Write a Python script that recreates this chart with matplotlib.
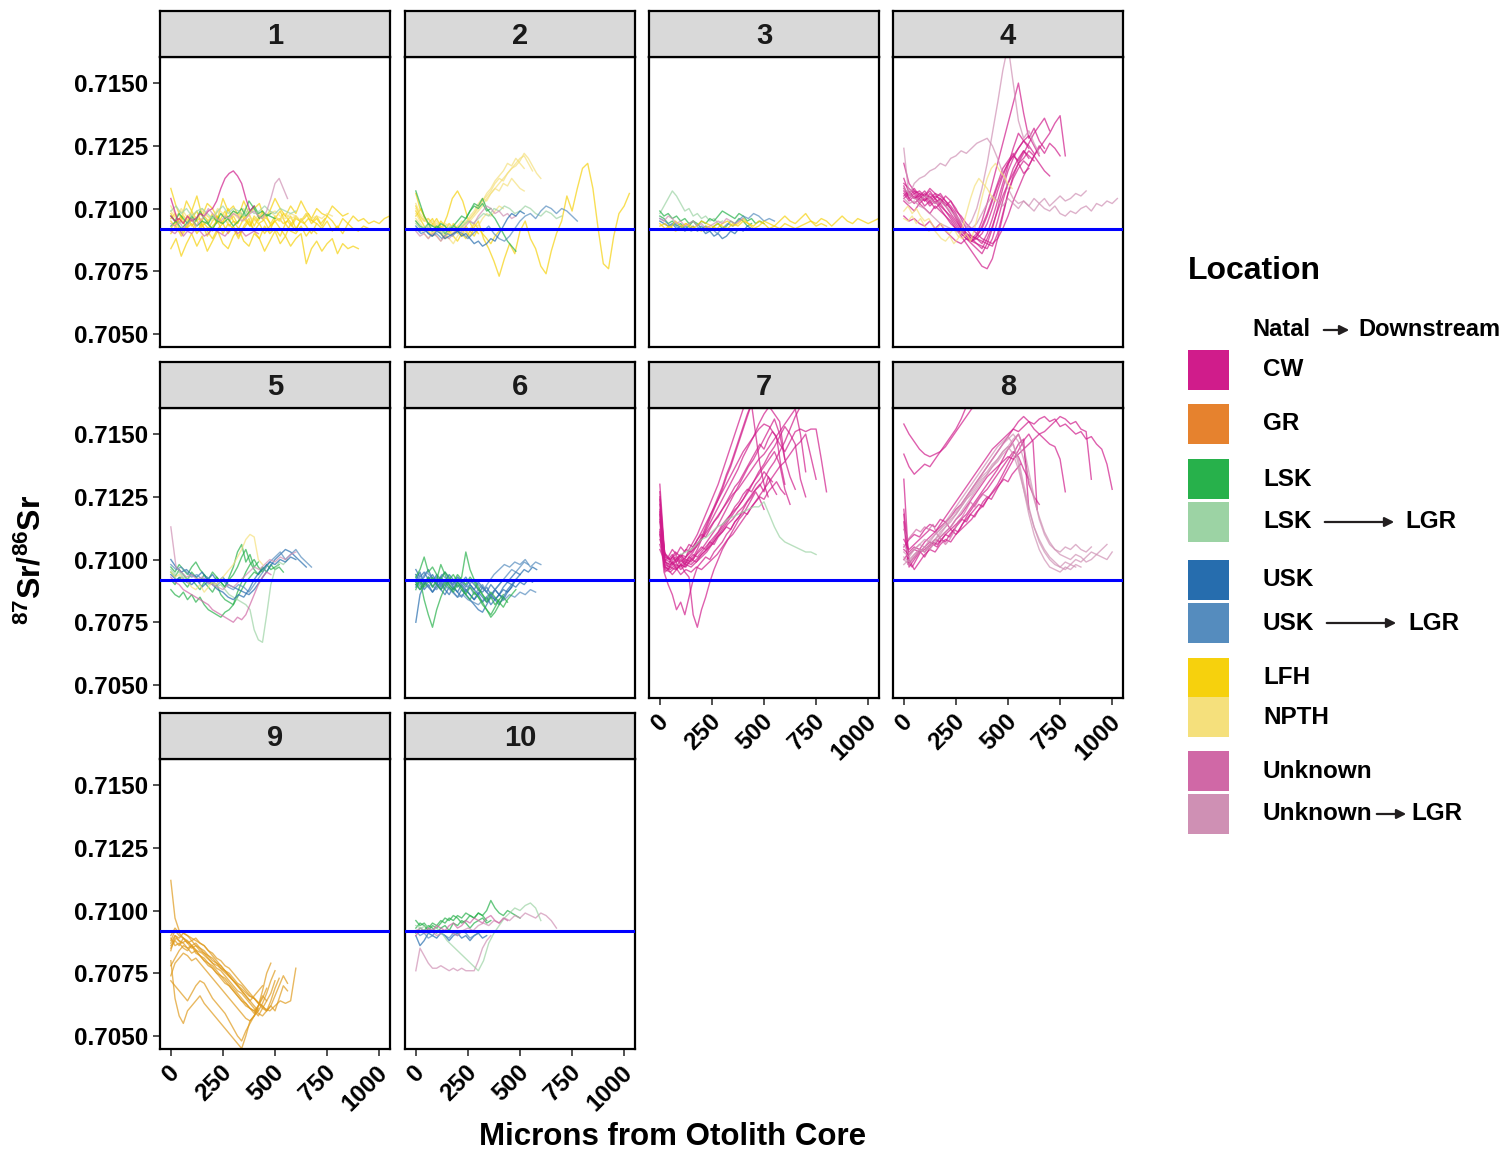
import numpy as np
import matplotlib
matplotlib.use("Agg")
import matplotlib.pyplot as plt
from matplotlib.patches import Rectangle, FancyArrowPatch
from matplotlib.transforms import ScaledTranslation

plt.rcParams["font.family"] = ["Liberation Sans", "DejaVu Sans"]
plt.rcParams["font.weight"] = "bold"
plt.rcParams["mathtext.fontset"] = "custom"
plt.rcParams["mathtext.rm"] = "Liberation Sans:bold"
plt.rcParams["mathtext.bf"] = "Liberation Sans:bold"

# ---------------- DATA ----------------
# each trace: (location, first micron, micron step, Sr ratios stored as (ratio - 0.7) * 1e4)
PANEL_1 = [
    ("LFH", 0, 25, [98, 94, 97, 92, 96, 99, 93, 95, 91, 97, 94, 100, 95, 92, 96, 98, 93, 97, 95, 91, 96, 99,
                    94, 97, 92, 95, 98, 94, 96, 93, 97, 95, 92, 96, 94, 97, 95, 96, 94, 95, 94, 96, 97]),
    ("LFH", 0, 25, [84, 88, 81, 86, 90, 85, 89, 83, 87, 91, 86, 84, 89, 92, 87, 85, 90, 88, 83, 87, 91, 86,
                    89, 85, 88, 90, 78, 84, 87, 83, 86, 88, 82, 86, 84, 85, 84]),
    ("LFH", 0, 25, [108, 101, 96, 103, 99, 105, 97, 102, 100, 96, 104, 99, 101, 97, 103, 98, 100, 102, 96, 99,
                    104, 100, 97, 101, 98, 103, 99, 96, 100, 98, 97, 101, 99, 97, 98]),
    ("LFH", 0, 20, [95, 93, 96, 94, 97, 93, 95, 96, 94, 92, 95, 97, 94, 96, 93, 95, 94, 97, 95, 93, 96, 94,
                    95, 97, 93, 95, 96, 94, 95, 93, 96, 95, 94, 96, 95, 94]),
    ("LFH", 0, 25, [92, 95, 90, 93, 96, 91, 94, 89, 93, 95, 90, 94, 92, 88, 93, 96, 91, 94, 90, 93, 95, 92,
                    89, 94, 91, 96, 93, 90, 94, 92, 95, 91, 93, 90, 94, 92, 91, 93, 92]),
    ("LFH", 0, 20, [96, 98, 94, 97, 95, 99, 96, 93, 97, 95, 98, 94, 96, 99, 95, 97, 94, 98, 96, 93, 97, 95,
                    99, 96, 94, 97, 95, 98, 96, 94, 97, 95, 96, 98, 95, 97, 94, 96]),
    ("LFH", 0, 25, [90, 93, 89, 92, 94, 90, 93, 91, 88, 92, 94, 90, 93, 89, 92, 95, 91, 88, 93, 90, 92, 89,
                    94, 91, 90, 93, 89, 92, 90]),
    ("NPTH", 0, 25, [99, 96, 100, 97, 98, 95, 99, 97, 96, 100, 98, 96, 99, 97, 95, 98, 100, 97, 96, 98, 99,
                     97, 96, 98, 97]),
    ("NPTH", 0, 25, [101, 97, 99, 95, 98, 96, 100, 97, 95, 99, 97, 94, 98, 96, 100, 97, 95, 98, 96, 99, 97,
                     95, 98, 96, 97, 95, 98, 96, 97, 96, 98, 97]),
    ("LSK", 0, 20, [97, 95, 98, 96, 94, 97, 95, 99, 96, 94, 97, 95, 98, 96, 97, 99, 98, 100, 97, 99, 101, 98,
                    99, 97, 98]),
    ("LSK", 0, 25, [93, 95, 92, 94, 96, 93, 95, 94, 92, 95, 94, 96, 93, 95, 98, 103, 100, 96, 98, 97, 96]),
    ("LSK_LGR", 0, 25, [99, 101, 98, 100, 97, 99, 100, 98, 96, 99, 101, 98, 100, 99, 97, 100, 98, 99, 101,
                        99, 98, 100, 99, 98, 99]),
    ("CW", 0, 20, [97, 95, 96, 94, 97, 95, 96, 98, 97, 99, 100, 103, 108, 112, 114, 115, 113, 110, 104, 99, 101]),
    ("Unknown_LGR", 0, 20, [94, 93, 95, 92, 94, 96, 93, 95, 97, 100, 98, 96, 95, 97, 96, 98, 97, 95, 96, 98,
                            99, 97, 96, 99, 104, 110, 112, 108, 104]),
    ("Unknown", 0, 20, [91, 90, 92, 89, 91, 90, 92, 91, 89, 90, 92, 91, 90, 89, 91, 92, 90, 91, 89, 90, 91, 90]),
    ("CW", 0, 15, [104, 100, 96]),
]

PANEL_2 = [
    ("LFH", 0, 25, [97, 100, 95, 93, 96, 92, 97, 104, 107, 103, 96, 92, 95, 88, 84, 79, 73, 80, 86, 82, 91,
                    95, 88, 84, 77, 74, 83, 90, 95, 105, 99, 108, 116, 118, 108, 92, 78, 76, 89, 98, 101, 106]),
    ("LFH", 0, 20, [106, 100, 97, 94, 96, 92, 95, 93, 90, 94, 92, 89, 93, 91, 94, 92]),
    ("LFH", 0, 20, [101, 97, 95, 96, 94, 92, 93, 91, 94, 92, 90, 93, 91, 89, 92, 90]),
    ("LFH", 0, 20, [99, 96, 93, 91, 89, 92, 90, 88, 91, 89, 87, 90, 88, 91, 89, 92, 90, 88, 86, 89, 91]),
    ("NPTH", 0, 20, [98, 95, 96, 94, 93, 95, 92, 94, 93, 91, 93, 92, 94, 95, 97, 99, 101, 104, 106, 108, 110,
                     112, 114, 116, 118, 120, 121, 118, 115]),
    ("NPTH", 0, 20, [100, 97, 95, 96, 93, 94, 92, 93, 94, 92, 91, 93, 95, 96, 98, 100, 103, 105, 107, 110, 112,
                     111, 114, 116, 117, 119, 122, 120, 117, 114, 112]),
    ("NPTH", 0, 20, [96, 94, 92, 93, 90, 92, 91, 89, 92, 90, 93, 95, 94, 97, 99, 102, 104, 103, 106, 108, 107,
                     110, 109, 112, 110, 108, 107]),
    ("NPTH", 0, 20, [95, 92, 90, 88, 91, 89, 87, 90, 88, 86, 89, 91, 90, 92, 94, 93, 96, 98, 97, 99, 101, 100]),
    ("NPTH", 0, 20, [102, 98, 96, 94, 95, 93, 91, 92, 90, 92, 91, 93, 94, 96, 98, 101, 103, 106, 108, 111, 113,
                     115, 118, 117, 120, 118, 116]),
    ("LSK", 0, 20, [107, 102, 97, 94, 93, 92, 94, 93, 91, 93, 92, 94, 96, 99, 102, 101, 104, 100, 98, 96, 93,
                    90, 87, 85, 83]),
    ("LSK", 0, 20, [95, 93, 92, 94, 91, 93, 92, 90, 92, 93, 95, 97, 96, 99, 101, 100, 102, 99, 100]),
    ("LSK_LGR", 0, 25, [94, 92, 93, 91, 92, 90, 92, 93, 91, 93, 95, 94, 96, 98, 97, 100, 99, 101, 100, 98, 99,
                        101, 100, 98, 97, 99, 98, 96, 97]),
    ("USK_LGR", 0, 25, [92, 90, 91, 89, 90, 88, 90, 89, 91, 90, 88, 90, 92, 91, 93, 90, 88, 87, 89, 92, 95,
                        97, 98, 96, 99, 101, 100, 98, 100, 99, 97, 95]),
    ("Unknown_LGR", 0, 20, [91, 89, 90, 88, 90, 89, 87, 89, 88, 90, 92, 91, 93, 95, 94, 97, 99, 101, 100, 98,
                            99, 97, 98, 96, 97]),
    ("USK", 0, 20, [93, 91, 92, 90, 89, 91, 90, 88, 89, 90, 91, 89, 90, 88, 86, 87, 85, 86, 88, 87, 90, 93,
                    96, 98, 97, 99, 98]),
]

PANEL_3 = [
    ("LSK_LGR", 0, 20, [98, 101, 104, 107, 105, 102, 99, 100, 97, 98, 96, 97, 95, 96, 94, 95]),
    ("LSK", 0, 20, [99, 97, 98, 96, 97, 95, 96, 94, 95, 93, 95, 94, 96, 95, 97, 99, 98, 97, 96, 98, 97, 95,
                    96, 94, 95, 94]),
    ("LSK", 0, 20, [97, 96, 94, 95, 93, 94, 92, 93, 95, 94, 92, 93, 91, 93, 94, 92, 93, 95, 94, 96, 95, 93, 94]),
    ("USK", 0, 20, [95, 94, 93, 94, 92, 93, 91, 92, 93, 91, 92, 90, 91, 89, 90, 88, 89, 91, 90, 92, 91, 93, 92]),
    ("USK_LGR", 0, 25, [96, 95, 93, 94, 92, 93, 91, 92, 93, 91, 92, 90, 92, 94, 93, 95, 97, 96, 98, 97, 95,
                        96, 95]),
    ("LFH", 0, 25, [93, 94, 92, 95, 93, 94, 92, 93, 95, 94, 93, 92, 94, 95, 93, 94, 96, 94, 93, 95, 94, 92,
                    93, 95, 97, 95, 94, 96, 98, 95, 94, 96, 95, 93, 95, 97, 95, 94, 96, 95, 94, 95, 96]),
    ("LFH", 0, 25, [94, 92, 93, 91, 92, 94, 93, 92, 91, 93, 92, 94, 93, 92, 94, 93, 95, 94, 92, 93, 95, 94,
                    93, 92, 94, 93, 92, 93, 94, 95, 93, 94, 93]),
    ("Unknown_LGR", 0, 20, [96, 95, 97, 96, 94, 95, 93, 94, 95, 93, 94, 92, 93, 94, 95, 94, 96, 95, 94, 95, 96]),
]

PANEL_4 = [
    ("CW", 0, 25, [118, 110, 107, 106, 105, 107, 104, 106, 103, 101, 98, 94, 90, 88, 86, 84, 88, 93, 99, 105,
                   110, 114, 118, 120, 123, 121, 125, 122, 126, 124, 121]),
    ("CW", 0, 25, [112, 106, 104, 105, 103, 106, 104, 102, 105, 103, 100, 96, 92, 89, 88, 87, 86, 85, 90, 98,
                   106, 112, 116, 119, 117, 121, 118, 115, 113]),
    ("CW", 0, 25, [109, 104, 106, 103, 105, 102, 104, 101, 99, 96, 93, 90, 88, 86, 84, 82, 86, 92, 100, 108,
                   115, 120, 124, 127, 129, 125, 121]),
    ("CW", 0, 25, [106, 103, 105, 102, 104, 101, 103, 100, 97, 94, 92, 89, 86, 83, 80, 77, 76, 80, 88, 97,
                   106, 113, 118, 122, 126, 130, 133, 136, 131]),
    ("CW", 0, 25, [105, 107, 104, 106, 103, 105, 102, 104, 101, 103, 99, 97, 94, 92, 90, 88, 87, 86, 88, 92,
                   97, 103, 108, 113, 117, 121, 124, 127, 130, 134, 137, 121]),
    ("CW", 0, 25, [103, 101, 99, 102, 100, 98, 101, 99, 97, 95, 92, 90, 88, 87, 89, 93, 98, 104, 110, 116,
                   119, 122, 118, 114, 116]),
    ("CW", 0, 25, [108, 105, 107, 104, 106, 103, 105, 104, 102, 100, 97, 93, 90, 88, 90, 95, 102, 110, 118,
                   126, 134, 142, 150, 138, 128, 132, 127, 124]),
    ("CW", 0, 25, [97, 95, 96, 94, 93, 95, 92, 94, 91, 89, 87, 86, 88, 87, 89, 92, 97, 103, 109, 114, 118,
                   121, 119, 123, 120]),
    ("CW", 0, 25, [110, 108, 106, 107, 105, 108, 106, 105, 103, 100, 96, 92, 90, 89, 88, 90, 94, 100, 107,
                   113, 118, 121, 124, 127, 125, 122]),
    ("CW", 0, 25, [104, 106, 108, 105, 107, 104, 106, 103, 101, 98, 95, 92, 89, 87, 86, 85, 84, 88, 95, 103,
                   110, 116, 120, 123, 121, 119]),
    ("CW", 0, 25, [107, 104, 102, 104, 101, 103, 100, 102, 99, 97, 94, 91, 89, 87, 88, 86, 90, 96, 103, 110,
                   117, 124, 130, 127, 124]),
    ("Unknown_LGR", 0, 25, [124, 105, 110, 112, 113, 115, 116, 118, 117, 120, 121, 123, 122, 124, 126, 127,
                            128, 125, 120, 114, 108, 104, 102, 103, 101, 104, 102, 100, 99, 101, 98, 97, 99,
                            98, 100, 101, 99, 102, 101, 103, 102, 104]),
    ("Unknown_LGR", 0, 25, [108, 106, 104, 103, 105, 104, 102, 103, 101, 99, 97, 95, 93, 92, 94, 98, 102, 105,
                            103, 101, 104, 102, 100, 103, 101, 99, 102, 104, 101, 103, 105, 103, 104, 106,
                            105, 107]),
    ("Unknown_LGR", 0, 25, [104, 102, 103, 101, 100, 98, 96, 94, 93, 92, 91, 90, 92, 95, 100, 108, 118, 130,
                            142, 155, 165, 150, 135, 128, 131, 126, 122]),
    ("NPTH", 0, 20, [99, 101, 98, 100, 97, 95, 96, 93, 92, 94, 91, 90, 92, 89, 88, 90, 87, 92, 99, 106, 112,
                     116, 118, 115, 113, 110, 108]),
    ("NPTH", 0, 20, [96, 95, 97, 94, 96, 93, 91, 92, 90, 88, 87, 89, 86, 88, 92, 98, 104, 109, 112, 110, 108,
                     105, 103]),
]

PANEL_5 = [
    ("LSK", 0, 20, [95, 93, 96, 94, 92, 95, 93, 91, 94, 92, 90, 93, 91, 89, 92, 94, 97, 101, 104, 99, 96, 94,
                    97, 95, 98, 96, 97, 95]),
    ("LSK", 0, 20, [88, 86, 85, 87, 84, 86, 83, 85, 82, 80, 79, 78, 77, 79, 80, 82, 85, 88, 91, 93, 95, 94, 96]),
    ("LSK", 0, 20, [92, 90, 93, 91, 89, 92, 90, 88, 91, 89, 87, 90, 86, 84, 83, 82, 87, 91, 95, 98, 100, 97,
                    95, 98, 96, 97, 98]),
    ("LSK", 0, 20, [97, 95, 98, 96, 94, 97, 99, 96, 94, 92, 95, 93, 91, 89, 93, 97, 103, 106, 99, 102, 97, 99]),
    ("LSK_LGR", 0, 20, [96, 94, 95, 93, 92, 94, 93, 91, 92, 90, 91, 89, 90, 88, 86, 85, 84, 83, 82, 80, 72,
                        68, 67, 78, 90, 96, 99, 98, 100]),
    ("USK", 0, 25, [100, 97, 95, 96, 94, 93, 95, 92, 94, 91, 93, 90, 89, 88, 87, 86, 88, 91, 94, 97, 100, 102,
                    104, 103, 101, 99, 97]),
    ("USK_LGR", 0, 25, [98, 96, 97, 95, 93, 94, 92, 93, 91, 90, 92, 89, 88, 90, 89, 87, 90, 93, 96, 99, 101,
                        103, 100, 102, 104, 101, 99, 97]),
    ("USK", 0, 25, [94, 92, 93, 91, 90, 92, 89, 91, 90, 88, 87, 85, 84, 86, 85, 88, 92, 95, 97, 99, 98, 100,
                    99, 101, 100]),
    ("Unknown_LGR", 0, 25, [113, 97, 95, 93, 94, 92, 93, 91, 90, 89, 88, 90, 89, 91, 93, 95, 97, 96, 98, 100,
                            99, 101, 100, 102, 103]),
    ("Unknown", 0, 20, [93, 91, 90, 88, 87, 86, 85, 84, 83, 82, 80, 79, 78, 77, 76, 75, 77, 76, 78, 82, 86,
                        90, 93, 95, 94]),
    ("NPTH", 0, 20, [95, 93, 94, 92, 91, 89, 88, 90, 87, 89, 91, 90, 92, 94, 96, 98, 101, 104, 108, 110, 109,
                     100, 98]),
]

PANEL_6 = [
    ("USK", 0, 20, [92, 95, 90, 93, 91, 94, 89, 92, 90, 88, 91, 89, 87, 90, 88, 86, 89, 87, 85, 88, 86, 84,
                    87, 89, 92, 94, 96, 95, 97, 96]),
    ("USK", 0, 20, [75, 86, 90, 92, 89, 91, 88, 90, 92, 89, 87, 90, 88, 86, 84, 86, 83, 85, 82, 84, 86, 85,
                    88, 90, 89, 91, 90, 92, 91]),
    ("USK", 0, 20, [96, 93, 95, 92, 94, 91, 93, 95, 92, 90, 93, 91, 89, 92, 90, 88, 87, 89, 86, 88, 90, 92,
                    91, 93, 95, 94]),
    ("USK", 0, 20, [90, 88, 91, 89, 87, 90, 88, 86, 89, 87, 85, 88, 86, 84, 82, 80, 79, 82, 85, 84, 86, 88,
                    87, 89]),
    ("USK", 0, 20, [94, 91, 93, 96, 92, 90, 93, 91, 94, 92, 89, 91, 93, 90, 88, 91, 89, 87, 90, 88, 86, 89,
                    91, 90, 92]),
    ("USK", 0, 20, [89, 92, 88, 90, 87, 89, 91, 88, 86, 89, 87, 85, 88, 86, 84, 87, 85, 83, 86, 84, 82, 85]),
    ("USK_LGR", 0, 25, [91, 89, 92, 90, 88, 91, 89, 87, 85, 86, 84, 83, 82, 84, 86, 85, 83, 84, 86, 85, 87,
                        86, 88, 87]),
    ("USK_LGR", 0, 25, [94, 92, 95, 93, 91, 94, 92, 90, 93, 91, 89, 92, 90, 88, 91, 94, 96, 98, 97, 99, 98,
                        100, 97, 99, 98]),
    ("USK_LGR", 0, 20, [93, 90, 92, 89, 91, 93, 90, 88, 91, 89, 92, 90, 87, 89, 86, 88, 90, 87, 85, 88, 90,
                        92, 94, 96, 95, 97, 99, 98]),
    ("LSK", 0, 20, [88, 92, 84, 78, 73, 80, 85, 89, 92, 94, 91, 93, 103, 96, 92, 89, 86, 83, 85, 82, 84]),
    ("LSK", 0, 20, [93, 96, 101, 95, 97, 94, 92, 95, 93, 91, 94, 92, 90, 93, 91, 88, 86, 84, 87, 85, 83, 81,
                    84, 86, 88]),
    ("LSK", 0, 20, [90, 92, 89, 91, 93, 90, 88, 91, 89, 87, 90, 88, 86, 89, 87, 85, 83, 80, 78, 81, 84, 86]),
    ("LSK", 0, 20, [91, 88, 90, 93, 89, 92, 98, 94, 90, 88, 91, 89, 86, 84, 87, 85, 82, 80, 77, 79, 82, 85, 83]),
]

PANEL_7 = [
    ("CW", 0, 25, [130, 100, 99, 101, 98, 100, 99, 102, 104, 107, 110, 113, 117, 121, 125, 129, 133, 137, 140,
                   144, 148, 152, 156, 150, 140]),
    ("CW", 0, 25, [127, 98, 97, 99, 96, 98, 97, 99, 101, 103, 106, 109, 112, 115, 118, 121, 124, 128, 131,
                   135, 138, 142, 145, 149, 153, 150, 146, 132, 125]),
    ("CW", 0, 25, [122, 101, 100, 102, 99, 101, 103, 105, 108, 112, 116, 120, 124, 128, 132, 136, 141, 145,
                   149, 154, 158, 161, 158, 155, 140, 133, 128]),
    ("CW", 0, 25, [118, 96, 95, 97, 94, 96, 95, 97, 96, 98, 100, 102, 105, 108, 110, 113, 116, 119, 122, 125,
                   128, 131, 134, 137, 139, 142, 145, 147, 150, 141, 132]),
    ("CW", 0, 25, [125, 99, 98, 100, 102, 101, 104, 107, 111, 115, 119, 123, 127, 131, 135, 139, 143, 146,
                   149, 152, 154, 153, 150, 146, 143, 147, 151, 152, 151, 152, 152, 140, 127]),
    ("CW", 0, 20, [112, 95, 90, 86, 80, 83, 78, 85, 92, 97, 99, 101, 100, 103, 105, 107, 110, 112, 115, 117,
                   120, 123, 125, 128, 130, 127, 133, 129, 126]),
    ("CW", 0, 20, [120, 97, 96, 94, 96, 98, 95, 93, 78, 73, 80, 85, 91, 96, 100, 104, 107, 110, 113, 116, 118,
                   121, 124, 127, 124, 120]),
    ("CW", 0, 20, [115, 99, 101, 98, 100, 102, 99, 101, 103, 106, 109, 113, 117, 121, 125, 129, 134, 138, 143,
                   148, 153, 158, 162, 150, 138, 130, 125]),
    ("CW", 0, 20, [108, 103, 100, 102, 99, 101, 98, 100, 102, 101, 103, 105, 107, 106, 109, 111, 113, 112,
                   115, 117, 119, 118, 121, 123, 125, 124, 127, 129, 131, 128, 126]),
    ("CW", 0, 20, [104, 100, 97, 99, 96, 98, 97, 99, 101, 104, 108, 112, 116, 120, 124, 128, 133, 137, 142,
                   147, 152, 157, 162]),
    ("CW", 0, 25, [116, 102, 100, 103, 101, 104, 103, 106, 108, 111, 114, 117, 120, 123, 126, 128, 131, 134,
                   137, 140, 142, 145, 148, 151, 154, 157, 160, 150, 135]),
    ("CW", 0, 25, [110, 97, 96, 98, 97, 99, 98, 100, 102, 104, 107, 110, 113, 116, 119, 121, 124, 127, 131,
                   134, 137, 140, 143, 138, 128, 122]),
    ("CW", 0, 20, [124, 103, 101, 104, 102, 105, 103, 106, 105, 108, 110, 109, 112, 115, 117, 120, 123, 126,
                   129, 131, 134, 137, 140, 143, 146, 144, 148, 151, 149, 138, 130]),
    ("CW", 0, 20, [119, 98, 96, 99, 97, 100, 98, 101, 100, 103, 105, 104, 107, 109, 111, 114, 116, 118, 121,
                   123, 126, 128, 127, 130, 132, 135, 133, 131]),
    ("CW", 0, 25, [111, 95, 97, 96, 98, 97, 100, 99, 102, 104, 106, 109, 111, 114, 116, 119, 121, 124, 127,
                   129, 132, 136, 139, 143, 147, 152, 157, 161]),
    ("CW", 0, 20, [106, 100, 98, 101, 99, 102, 100, 104, 107, 110, 114, 118, 122, 126, 130, 135, 140, 145,
                   150, 155, 160, 163]),
    ("LSK_LGR", 100, 25, [102, 103, 104, 106, 108, 109, 111, 113, 114, 116, 117, 118, 119, 120, 121, 121, 123,
                          118, 113, 109, 107, 106, 105, 104, 103, 103, 102]),
]

PANEL_8 = [
    ("CW", 0, 25, [132, 97, 100, 103, 104, 106, 108, 107, 110, 112, 114, 116, 118, 121, 124, 127, 130, 133,
                   136, 140, 144, 147, 150, 145, 130, 125, 122]),
    ("CW", 0, 25, [154, 150, 147, 144, 142, 141, 142, 143, 145, 148, 151, 154, 157, 160, 162, 165, 168]),
    ("CW", 0, 25, [142, 137, 134, 136, 138, 137, 140, 143, 146, 149, 152, 156, 161]),
    ("CW", 0, 25, [108, 104, 106, 108, 110, 112, 111, 114, 117, 120, 123, 126, 129, 132, 135, 138, 141, 144,
                   146, 148, 150, 152, 151, 153, 155, 154, 156, 157, 155, 156, 153, 154, 152, 150, 151, 148,
                   149, 146, 144, 138, 128]),
    ("CW", 0, 25, [100, 103, 105, 104, 107, 109, 111, 113, 115, 117, 120, 122, 125, 128, 131, 134, 137, 140,
                   143, 146, 149, 152, 155, 157, 155, 152, 150, 148, 146, 145, 140, 127]),
    ("CW", 0, 25, [104, 102, 104, 103, 105, 107, 106, 109, 111, 113, 116, 118, 121, 124, 127, 130, 133, 135,
                   137, 139, 141, 140, 142, 144, 146, 148, 150, 151, 153, 155, 157, 156, 154, 155, 152, 151,
                   132]),
    ("CW", 0, 25, [120, 100, 96, 99, 102, 104, 103, 106, 108, 107, 110, 112, 114, 116, 119, 121, 124, 127, 130,
                   134, 138, 142, 146, 148, 120]),
    ("CW", 0, 20, [115, 98, 100, 102, 104, 103, 105, 107, 106, 108, 110, 109, 112, 114, 116, 115, 118, 120,
                   122, 121, 124, 126, 128, 130, 132, 131, 134, 136, 138]),
    ("CW", 0, 20, [118, 99, 97, 100, 103, 101, 104, 106, 105, 108, 107, 110, 112, 111, 114, 116, 118, 117,
                   120, 123, 125, 124, 127, 130, 133, 136, 139, 142, 145, 148, 150, 147, 120]),
    ("CW", 0, 25, [105, 108, 110, 109, 112, 114, 113, 116, 115, 112, 110, 113, 117, 120, 123, 126, 128, 131,
                   134, 137, 140, 143, 141, 136, 132]),
    ("Unknown", 0, 20, [112, 108, 110, 112, 111, 113, 112, 114, 110, 108, 106, 108, 111, 115, 117, 120, 123,
                        121, 124, 126, 125]),
    ("Unknown_LGR", 0, 25, [106, 102, 104, 106, 108, 107, 110, 112, 114, 117, 119, 122, 125, 128, 131, 134,
                            137, 140, 143, 146, 148, 150, 147, 140, 132, 124, 117, 111, 107, 104, 102, 101,
                            100, 102, 101, 99, 100, 102, 101, 100, 103]),
    ("Unknown_LGR", 0, 25, [100, 98, 101, 103, 105, 104, 107, 109, 111, 113, 116, 119, 122, 125, 128, 131,
                            134, 137, 140, 143, 145, 142, 136, 128, 120, 113, 108, 104, 101, 99, 97, 96, 98,
                            100, 99, 101, 103, 102, 104, 106]),
    ("Unknown_LGR", 0, 25, [103, 101, 104, 106, 105, 108, 110, 112, 115, 118, 121, 124, 127, 130, 133, 136,
                            139, 142, 145, 147, 149, 146, 138, 128, 118, 110, 104, 100, 97, 96, 95, 97, 96,
                            98, 97]),
    ("Unknown_LGR", 0, 25, [98, 100, 102, 104, 103, 106, 108, 110, 113, 115, 118, 121, 124, 127, 130, 133,
                            135, 138, 140, 143, 145, 148, 150, 145, 135, 125, 116, 110, 106, 104, 103, 105,
                            104, 106, 104, 103, 105]),
    ("Unknown_LGR", 0, 25, [101, 99, 102, 104, 103, 106, 108, 111, 113, 116, 118, 121, 124, 126, 129, 132,
                            134, 137, 139, 142, 144, 146, 140, 130, 121, 113, 107, 103, 100, 98, 97, 99, 98,
                            97]),
]

PANEL_9 = [
    ("GR", 0, 20, [112, 97, 92, 91, 90, 89, 88, 87, 86, 84, 83, 81, 80, 78, 77, 75, 73, 71, 69, 67, 65, 63,
                   61, 60, 62, 60, 65, 70, 68]),
    ("GR", 0, 20, [88, 92, 90, 89, 87, 88, 86, 85, 83, 82, 80, 79, 77, 76, 74, 72, 70, 68, 66, 64, 62, 60,
                   63, 67, 72, 76]),
    ("GR", 0, 20, [84, 90, 88, 87, 85, 86, 84, 82, 81, 79, 78, 76, 74, 73, 71, 69, 67, 65, 63, 61, 59, 62,
                   66, 64]),
    ("GR", 0, 25, [86, 89, 87, 88, 86, 84, 83, 81, 79, 78, 76, 74, 72, 70, 68, 66, 65, 63, 61, 60, 62, 64,
                   63, 64, 77]),
    ("GR", 0, 20, [74, 79, 81, 83, 82, 80, 81, 79, 77, 75, 73, 71, 69, 67, 65, 63, 61, 59, 57, 56, 58, 62,
                   68, 75, 79]),
    ("GR", 0, 20, [80, 65, 58, 55, 60, 62, 64, 66, 63, 61, 59, 57, 55, 53, 51, 49, 47, 45, 50, 56, 58, 61]),
    ("GR", 0, 20, [90, 93, 91, 89, 88, 86, 87, 85, 84, 82, 81, 79, 78, 76, 75, 73, 71, 70, 68, 66, 65, 63,
                   62, 60, 64, 69, 73]),
    ("GR", 0, 20, [87, 90, 89, 91, 90, 88, 89, 87, 86, 84, 82, 80, 78, 76, 74, 72, 70, 68, 66, 64, 66, 68, 70]),
    ("GR", 0, 20, [72, 70, 68, 66, 64, 67, 70, 72, 71, 68, 65, 63, 61, 59, 56, 53, 50, 48, 52, 55, 58, 60]),
    ("GR", 0, 20, [85, 88, 86, 89, 87, 85, 86, 84, 83, 81, 79, 77, 76, 74, 72, 70, 68, 67, 65, 63, 61, 59,
                   58, 60, 62, 66, 70, 74, 71]),
    ("GR", 0, 20, [89, 86, 87, 85, 84, 86, 83, 82, 80, 78, 77, 75, 73, 71, 70, 68, 66, 64, 62, 61, 60, 62,
                   65, 69]),
    ("GR", 0, 20, [78, 81, 84, 86, 85, 83, 84, 82, 80, 79, 77, 75, 74, 72, 70, 68, 66, 64, 63, 61, 60, 58,
                   61, 64, 67, 72]),
]

PANEL_10 = [
    ("LSK", 0, 20, [96, 94, 95, 93, 95, 94, 96, 95, 97, 96, 98, 97, 99, 98, 97, 99, 98, 100, 104, 101, 99,
                    98, 100, 99, 98, 97]),
    ("LSK", 0, 20, [93, 95, 94, 92, 94, 93, 95, 97, 96, 98, 97, 95, 96, 98, 97, 99, 98, 96]),
    ("LSK", 0, 20, [91, 93, 92, 94, 93, 91, 93, 94, 92, 95, 94, 96, 95, 93, 95, 96, 97, 95, 96]),
    ("USK", 0, 20, [90, 86, 88, 91, 90, 89, 91, 90, 88, 90, 91, 89, 90, 88, 90, 91, 89, 90]),
    ("USK_LGR", 0, 20, [92, 90, 91, 89, 90, 92, 91, 90, 89, 91, 90, 92, 91, 89, 90, 91]),
    ("Unknown_LGR", 0, 25, [92, 93, 91, 92, 90, 91, 92, 91, 90, 92, 93, 92, 94, 95, 94, 96, 95, 97, 96, 98,
                            97, 99, 98, 97, 99, 98, 96, 93]),
    ("Unknown_LGR", 0, 20, [76, 85, 82, 79, 77, 77, 78, 77, 76, 77, 76, 77, 76, 76, 76, 80, 85, 88, 90]),
    ("LSK_LGR", 0, 25, [94, 93, 94, 92, 93, 91, 88, 86, 84, 82, 80, 78, 76, 80, 87, 91, 94, 97, 99, 101, 100,
                        102, 103, 101, 96]),
    ("Unknown", 0, 20, [90, 92, 91, 93, 92, 94, 93, 92, 94, 95, 93, 94, 96, 95, 97, 96, 95, 97, 98, 96, 95,
                        97, 96]),
]

PANELS = [PANEL_1, PANEL_2, PANEL_3, PANEL_4, PANEL_5, PANEL_6, PANEL_7, PANEL_8, PANEL_9, PANEL_10]
PANEL_TITLES = ["1", "2", "3", "4", "5", "6", "7", "8", "9", "10"]

SEAWATER = 0.70918
Y_TICKS = [0.7050, 0.7075, 0.7100, 0.7125, 0.7150]
X_TICKS = [0, 250, 500, 750, 1000]

LEGEND_KEYS = ["CW", "GR", "LSK", "LSK_LGR", "USK", "USK_LGR", "LFH", "NPTH", "Unknown", "Unknown_LGR"]
LEGEND_NAMES = ["CW", "GR", "LSK", "LSK", "USK", "USK", "LFH", "NPTH", "Unknown", "Unknown"]

SWATCH_COLORS = {
    "CW": "#D01C8B", "GR": "#E6822E", "LSK": "#27B14B", "LSK_LGR": "#9CD3A4",
    "USK": "#266DAE", "USK_LGR": "#558CBE", "LFH": "#F6D10D", "NPTH": "#F5E07C",
    "Unknown": "#D068A6", "Unknown_LGR": "#CF90B4",
}
LINE_COLORS = dict(SWATCH_COLORS, GR="#DF9A1C")

# ---------------- LAYOUT ----------------
W, H = 1507, 1152
COL_LEFT = [160, 405, 649, 893]
ROW_TOP = [57, 408, 759]
PW, PH, STRIP_H = 230, 290, 46


def fbox(left, top, width, height):
    return [left / W, 1 - (top + height) / H, width / W, height / H]


def fpt(x, y):
    return (x / W, 1 - y / H)


fig = plt.figure(figsize=(W / 100, H / 100), dpi=100)
xlab_shift = ScaledTranslation(5 / 100, -2 / 100, fig.dpi_scale_trans)

for i, traces in enumerate(PANELS):
    r, c = divmod(i, 4)
    ax = fig.add_axes(fbox(COL_LEFT[c], ROW_TOP[r], PW, PH))
    for grp, x0, dx, vals in traces:
        y = 0.7 + np.asarray(vals) * 1e-4
        x = x0 + dx * np.arange(len(vals))
        ax.plot(x, y, color=LINE_COLORS[grp], lw=1.0, alpha=0.7)
    ax.axhline(SEAWATER, color="#0000FF", lw=2.2, zorder=5)
    ax.set_xlim(-52, 1052)
    ax.set_ylim(0.70448, 0.71604)
    ax.set_yticks(Y_TICKS)
    ax.set_xticks(X_TICKS)
    for s in ax.spines.values():
        s.set_linewidth(1.6)
    ax.tick_params(length=5, width=1.2, color="#333333", labelsize=17.5)
    if c == 0:
        ax.set_yticklabels([f"{v:.4f}" for v in Y_TICKS], fontweight="bold")
    else:
        ax.tick_params(axis="y", left=False, labelleft=False)
    if i >= 6:
        ax.set_xticklabels([str(v) for v in X_TICKS], rotation=45, ha="right",
                           va="center", rotation_mode="anchor", fontweight="bold")
        ax.tick_params(axis="x", pad=8)
        for lab in ax.get_xticklabels():
            lab.set_transform(lab.get_transform() + xlab_shift)
    else:
        ax.tick_params(axis="x", bottom=False, labelbottom=False)

    # facet strip
    sax = fig.add_axes(fbox(COL_LEFT[c], ROW_TOP[r] - STRIP_H, PW, STRIP_H))
    sax.set_facecolor("#D9D9D9")
    sax.set_xticks([])
    sax.set_yticks([])
    for s in sax.spines.values():
        s.set_linewidth(1.6)
    sax.text(0.5, 0.45, PANEL_TITLES[i], ha="center", va="center", fontsize=21,
             fontweight="bold", color="#1A1A1A", transform=sax.transAxes)

fig.text(*fpt(673, 1137), "Microns from Otolith Core", ha="center", va="center",
         fontsize=22.5, fontweight="bold")
fig.text(*fpt(32, 560), r"$\mathbf{^{87}Sr/^{86}Sr}$", ha="center", va="center",
         rotation=90, fontsize=23)

# ---------------- LEGEND ----------------
fig.text(*fpt(1188, 271), "Location", ha="left", va="center", fontsize=23, fontweight="bold")


def legend_arrow(x0, x1, y):
    fig.add_artist(FancyArrowPatch(fpt(x0, y), fpt(x1, y), transform=fig.transFigure,
                                   arrowstyle="-|>", mutation_scale=14, lw=1.6, color="#231F20"))


fig.text(*fpt(1252, 330), "Natal", ha="left", va="center", fontsize=17, fontweight="bold")
legend_arrow(1321, 1352, 330)
fig.text(*fpt(1358, 330), "Downstream", ha="left", va="center", fontsize=17, fontweight="bold")

SWATCH_TOPS = [350, 404, 459, 502, 560, 603, 658, 697, 751, 794]
for key, name, top in zip(LEGEND_KEYS, LEGEND_NAMES, SWATCH_TOPS):
    fig.add_artist(Rectangle(fpt(1188, top + 40), 41 / W, 40 / H, transform=fig.transFigure,
                             facecolor=SWATCH_COLORS[key], edgecolor="none"))
    fig.text(*fpt(1263, top + 20), name, ha="left", va="center", fontsize=17.5, fontweight="bold")

legend_arrow(1322, 1397, 522)
fig.text(*fpt(1405, 522), "LGR", ha="left", va="center", fontsize=17.5, fontweight="bold")
legend_arrow(1324, 1399, 623)
fig.text(*fpt(1408, 623), "LGR", ha="left", va="center", fontsize=17.5, fontweight="bold")
legend_arrow(1374, 1409, 814)
fig.text(*fpt(1411, 814), "LGR", ha="left", va="center", fontsize=17.5, fontweight="bold")

fig.savefig("out.png", dpi=100)
plt.close(fig)
